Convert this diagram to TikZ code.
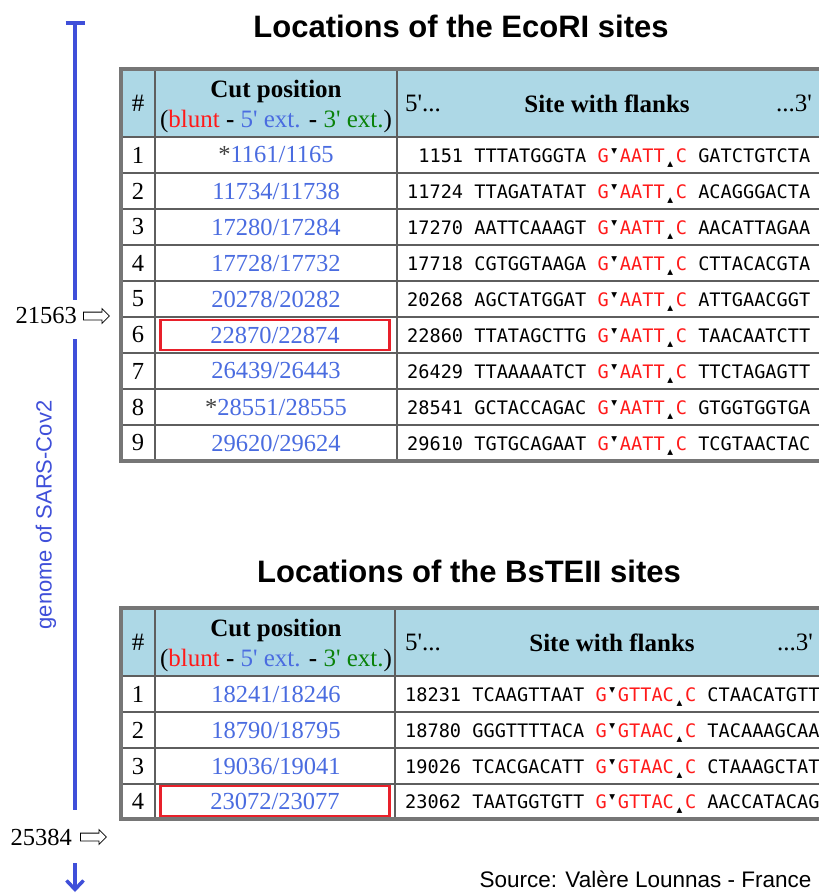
\documentclass[tikz,border=0pt]{standalone}
\usepackage{fontspec}
\setmainfont{Liberation Serif}
\setsansfont{Liberation Sans}
\newfontfamily\seqfont{DejaVu Sans Mono}
\newfontfamily\markfont{DejaVu Sans}
\usepackage{tikz}
\usetikzlibrary{arrows.meta, positioning, shapes.arrows}

\definecolor{headblue}{HTML}{ADD8E6}
\definecolor{numblue}{HTML}{4A6CE0}
\definecolor{axisblue}{HTML}{3F4FD9}
\definecolor{gridgray}{HTML}{5E5E5E}
\definecolor{sitered}{HTML}{FF1A1A}
\definecolor{boxred}{HTML}{E8202A}
\definecolor{extgreen}{HTML}{0A820A}

% cut marks inside the recognition site
\newcommand{\downcut}{\makebox[0.6em]{\raisebox{8.5pt}{\markfont\fontsize{7.5}{7.5}\selectfont ▼}}}
\newcommand{\upcut}{\makebox[0.6em]{\raisebox{-4.5pt}{\markfont\fontsize{7.5}{7.5}\selectfont ▲}}}
\newcommand{\ecosite}{\textcolor{sitered}{G}\downcut\textcolor{sitered}{AATT}\upcut\textcolor{sitered}{C}}
\newcommand{\bstsite}[1]{\textcolor{sitered}{G}\downcut\textcolor{sitered}{#1}\upcut\textcolor{sitered}{C}}
\newcommand{\cutkey}{(\textcolor{sitered}{blunt} \textbf{-} \textcolor{numblue}{5\textquotesingle{} ext.} \textbf{-} \textcolor{extgreen}{3\textquotesingle{} ext.})}

\begin{document}
\begin{tikzpicture}[
    x=1pt, y=-1pt,
    title/.style={font=\sffamily\bfseries\fontsize{31}{36}\selectfont},
    hdr/.style={font=\fontsize{25}{30}\selectfont, align=center, inner sep=0pt},
    numcell/.style={font=\fontsize{24.5}{28}\selectfont, inner sep=0pt},
    cutcell/.style={numcell, text=numblue},
    seqcell/.style={anchor=base west, inner sep=0pt,
                    font=\seqfont\fontsize{18.6}{22}\selectfont},
    hilite/.style={draw=boxred, line width=2.5pt,
                   minimum width=229pt, minimum height=30pt},
    cellline/.style={draw=gridgray, line width=2pt},
    outerline/.style={draw=gridgray!85, line width=3.5pt},
    axis/.style={draw=axisblue, line width=3.5pt},
    poslabel/.style={font=\fontsize{24.5}{28}\selectfont, inner sep=0pt, anchor=east},
    ptr/.style={single arrow, draw=black, fill=white, line width=0.8pt,
                minimum height=26pt, inner xsep=0pt, inner ysep=3.5pt,
                single arrow head extend=3.5pt},
  ]
    \useasboundingbox (0,0) rectangle (819,895);
    \fill[white] (0,0) rectangle (819,895);
    \clip (0,0) rectangle (819,895);

    % genome axis on the left
    \coordinate (top) at (75,21);
    \coordinate (bot) at (75,892);
    \node[poslabel] (lab1) at (77,316) {21563};
    \node[poslabel] (lab2) at (72,837) {25384};
    \node[ptr, right=6pt of lab1] (ptr1) {};
    \node[ptr, right=8pt of lab2] (ptr2) {};
    \draw[axis, {Bar[width=19pt]}-, shorten >=8pt] (top) -- (lab1.north -| top);
    \draw[axis, shorten <=15pt, shorten >=19pt] (lab1.south -| top) -- (lab2.north -| top);
    \draw[axis, -{Straight Barb[length=9pt, width=17pt]}, shorten <=18pt] (lab2.south -| top) -- (bot);
    \node[rotate=90, text=axisblue, font=\sffamily\fontsize{22}{26}\selectfont] (gen) at (46,515) {genome of SARS-Cov2};

    % EcoRI table
    \node[title] (ecotitle) at (461,26) {Locations of the EcoRI sites};
    \fill[headblue] (121,69) rectangle (830,137);
    \draw[cellline] (121,137) -- (830,137) (121,173) -- (830,173) (121,209) -- (830,209)
                    (121,245) -- (830,245) (121,281) -- (830,281) (121,317) -- (830,317)
                    (121,353) -- (830,353) (121,389) -- (830,389) (121,425) -- (830,425);
    \draw[cellline] (155,69) -- (155,461) (397,69) -- (397,461);
    \draw[outerline] (121,69) rectangle (830,461);

    \node[hdr] (ecohash) at (138,103) {\#};
    \node[hdr] (ecocut) at (276,106) {\textbf{Cut position}\\ \cutkey};
    \node[hdr, anchor=west] (ecofive) at (405,103) {5\textquotesingle...};
    \node[hdr, font=\bfseries\fontsize{25}{30}\selectfont] (ecosite) at (607,104) {Site with flanks};
    \node[hdr, anchor=east] (ecothree) at (812,103) {...3\textquotesingle};

    \node[numcell] (eco1num) at (138,155) {1};
    \node[cutcell] (eco1cut) at (276,155) {\textcolor{black!75}{*}1161/1165};
    \node[seqcell] (eco1seq) at (407,162) {\phantom{0}1151 TTTATGGGTA \ecosite{} GATCTGTCTA};
    \node[numcell] (eco2num) at (138,191) {2};
    \node[cutcell] (eco2cut) at (276,191) {11734/11738};
    \node[seqcell] (eco2seq) at (407,198) {11724 TTAGATATAT \ecosite{} ACAGGGACTA};
    \node[numcell] (eco3num) at (138,227) {3};
    \node[cutcell] (eco3cut) at (276,227) {17280/17284};
    \node[seqcell] (eco3seq) at (407,234) {17270 AATTCAAAGT \ecosite{} AACATTAGAA};
    \node[numcell] (eco4num) at (138,263) {4};
    \node[cutcell] (eco4cut) at (276,263) {17728/17732};
    \node[seqcell] (eco4seq) at (407,270) {17718 CGTGGTAAGA \ecosite{} CTTACACGTA};
    \node[numcell] (eco5num) at (138,299) {5};
    \node[cutcell] (eco5cut) at (276,299) {20278/20282};
    \node[seqcell] (eco5seq) at (407,306) {20268 AGCTATGGAT \ecosite{} ATTGAACGGT};
    \node[numcell] (eco6num) at (138,335) {6};
    \node[cutcell, hilite] (eco6cut) at (275,335) {22870/22874};
    \node[seqcell] (eco6seq) at (407,342) {22860 TTATAGCTTG \ecosite{} TAACAATCTT};
    \node[numcell] (eco7num) at (138,371) {7};
    \node[cutcell] (eco7cut) at (276,371) {26439/26443};
    \node[seqcell] (eco7seq) at (407,378) {26429 TTAAAAATCT \ecosite{} TTCTAGAGTT};
    \node[numcell] (eco8num) at (138,407) {8};
    \node[cutcell] (eco8cut) at (276,407) {\textcolor{black!75}{*}28551/28555};
    \node[seqcell] (eco8seq) at (407,414) {28541 GCTACCAGAC \ecosite{} GTGGTGGTGA};
    \node[numcell] (eco9num) at (138,443) {9};
    \node[cutcell] (eco9cut) at (276,443) {29620/29624};
    \node[seqcell] (eco9seq) at (407,450) {29610 TGTGCAGAAT \ecosite{} TCGTAACTAC};

    % BstEII table
    \node[title] (bsttitle) at (469,571) {Locations of the BsTEII sites};
    \fill[headblue] (121,608) rectangle (830,676);
    \draw[cellline] (121,676) -- (830,676) (121,712) -- (830,712) (121,748) -- (830,748)
                    (121,784) -- (830,784);
    \draw[cellline] (155,608) -- (155,819) (395,608) -- (395,819);
    \draw[outerline] (121,608) rectangle (830,819);

    \node[hdr] (bsthash) at (138,642) {\#};
    \node[hdr] (bstcut) at (276,645) {\textbf{Cut position}\\ \cutkey};
    \node[hdr, anchor=west] (bstfive) at (405,642) {5\textquotesingle...};
    \node[hdr, font=\bfseries\fontsize{25}{30}\selectfont] (bstsite) at (612,643) {Site with flanks};
    \node[hdr, anchor=west] (bstthree) at (777,642) {...3\textquotesingle};

    \node[numcell] (bst1num) at (138,694) {1};
    \node[cutcell] (bst1cut) at (276,694) {18241/18246};
    \node[seqcell] (bst1seq) at (405,701) {18231 TCAAGTTAAT \bstsite{GTTAC} CTAACATGTT};
    \node[numcell] (bst2num) at (138,730) {2};
    \node[cutcell] (bst2cut) at (276,730) {18790/18795};
    \node[seqcell] (bst2seq) at (405,737) {18780 GGGTTTTACA \bstsite{GTAAC} TACAAAGCAA};
    \node[numcell] (bst3num) at (138,766) {3};
    \node[cutcell] (bst3cut) at (276,766) {19036/19041};
    \node[seqcell] (bst3seq) at (405,773) {19026 TCACGACATT \bstsite{GTAAC} CTAAAGCTAT};
    \node[numcell] (bst4num) at (138,801) {4};
    \node[cutcell, hilite] (bst4cut) at (275,801) {23072/23077};
    \node[seqcell] (bst4seq) at (405,808) {23062 TAATGGTGTT \bstsite{GTTAC} AACCATACAG};

    \node[font=\sffamily\fontsize{22.5}{26}\selectfont, anchor=east] (source) at (815,879) {Source: Valère Lounnas - France};
\end{tikzpicture}
\end{document}
